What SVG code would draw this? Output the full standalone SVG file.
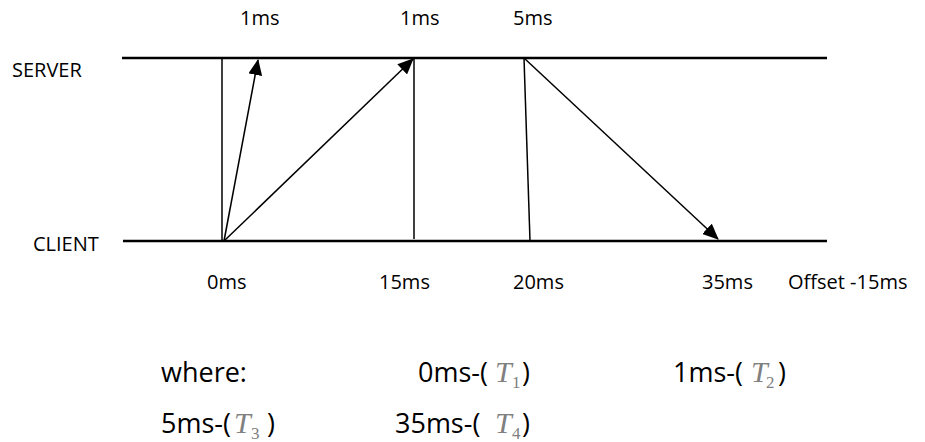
<svg xmlns="http://www.w3.org/2000/svg" width="925" height="442" viewBox="0 0 925 442">
<style>
.lbl{font-family:"Open Sans","Liberation Sans",sans-serif;font-size:20px;fill:#000}
.big{font-family:"Open Sans","Liberation Sans",sans-serif;font-size:27px;fill:#000}
.t{font-family:"Liberation Serif",serif;font-style:italic;font-size:30px;fill:#808080}
.s{font-family:"Liberation Serif",serif;font-size:17px;fill:#808080}
.life{stroke:#000;stroke-width:2.5;fill:none}
.conn{stroke:#000;stroke-width:1.5;fill:none}
</style>
<defs>
<marker id="ah" markerUnits="userSpaceOnUse" markerWidth="16" markerHeight="14" viewBox="0 0 16 14" refX="15" refY="7" orient="auto">
<path d="M0,0 L16,7 L0,14 z" fill="#000"/>
</marker>
</defs>
<rect width="925" height="442" fill="#fff"/>
<g id="server">
<line class="life" x1="122" y1="58" x2="827" y2="58"/>
<text class="lbl" x="12" y="77">SERVER</text>
</g>
<g id="client">
<line class="life" x1="123" y1="241" x2="827" y2="241"/>
<text class="lbl" x="33" y="251">CLIENT</text>
</g>
<g id="connectors">
<line class="conn" x1="222" y1="58" x2="222" y2="241"/>
<line class="conn" x1="414" y1="58" x2="414" y2="239"/>
<line class="conn" x1="524" y1="58" x2="530" y2="241"/>
<line class="conn" x1="224" y1="241" x2="258" y2="60" marker-end="url(#ah)"/>
<line class="conn" x1="224" y1="241" x2="413" y2="59" marker-end="url(#ah)"/>
<line class="conn" x1="524" y1="58" x2="718" y2="239" marker-end="url(#ah)"/>
</g>
<g id="top-labels">
<text class="lbl" x="240" y="25">1ms</text>
<text class="lbl" x="400" y="25">1ms</text>
<text class="lbl" x="513" y="25">5ms</text>
</g>
<g id="bottom-labels">
<text class="lbl" x="207" y="289">0ms</text>
<text class="lbl" x="379" y="289">15ms</text>
<text class="lbl" x="513" y="289">20ms</text>
<text class="lbl" x="702" y="289">35ms</text>
<text class="lbl" x="788" y="289">Offset -15ms</text>
</g>
<g id="legend">
<text class="big" x="161" y="382">where:</text>
<text class="big" x="418" y="382">0ms-(</text>
<text class="t" x="495" y="382">T</text>
<text class="s" x="512" y="388">1</text>
<text class="big" x="522" y="382">)</text>
<text class="big" x="673" y="382">1ms-(</text>
<text class="t" x="751" y="382">T</text>
<text class="s" x="766" y="388">2</text>
<text class="big" x="778" y="382">)</text>
<text class="big" x="161" y="433">5ms-(</text>
<text class="t" x="234" y="433">T</text>
<text class="s" x="251" y="439">3</text>
<text class="big" x="267" y="433">)</text>
<text class="big" x="395" y="433">35ms-(</text>
<text class="t" x="495" y="433">T</text>
<text class="s" x="512" y="439">4</text>
<text class="big" x="522" y="433">)</text>
</g>
</svg>
